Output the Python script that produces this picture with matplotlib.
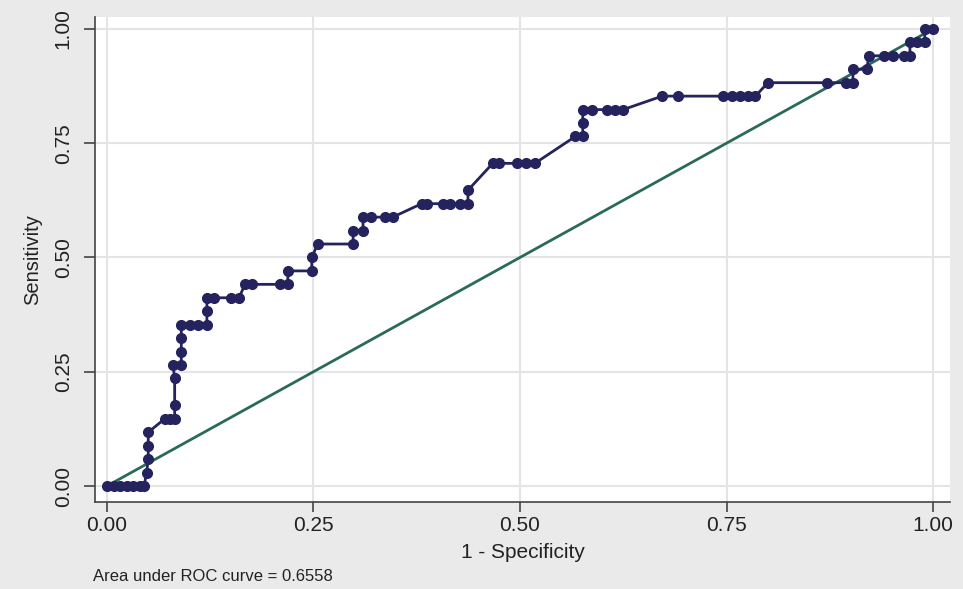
import numpy as np
import matplotlib.pyplot as plt

plt.rcParams['font.family'] = ['Liberation Sans', 'DejaVu Sans']

# ROC points (34 positives -> sensitivity in steps of 1/34)
fpr = [0.000, 0.008, 0.016, 0.024, 0.032, 0.040, 0.045,
       0.048, 0.050, 0.050, 0.050,
       0.070, 0.076, 0.082, 0.082, 0.082, 0.080, 0.090, 0.090, 0.090, 0.090,
       0.100, 0.110, 0.121, 0.121, 0.121, 0.130, 0.150, 0.160,
       0.167, 0.176, 0.210, 0.219, 0.219, 0.248, 0.248, 0.255, 0.298,
       0.298, 0.310, 0.310, 0.320, 0.337, 0.346,
       0.381, 0.388, 0.407, 0.415, 0.427, 0.437, 0.437,
       0.467, 0.475, 0.496, 0.507, 0.518,
       0.567, 0.576, 0.576, 0.576, 0.587, 0.605, 0.615, 0.625,
       0.672, 0.691, 0.746, 0.757, 0.766, 0.776, 0.785,
       0.800, 0.871, 0.895, 0.903, 0.903, 0.920, 0.922,
       0.940, 0.952, 0.965, 0.972, 0.972, 0.980, 0.990, 0.990, 1.000]
tp = [0, 0, 0, 0, 0, 0, 0,
      1, 2, 3, 4,
      5, 5, 5, 6, 8, 9, 9, 10, 11, 12,
      12, 12, 12, 13, 14, 14, 14, 14,
      15, 15, 15, 15, 16, 16, 17, 18, 18,
      19, 19, 20, 20, 20, 20,
      21, 21, 21, 21, 21, 21, 22,
      24, 24, 24, 24, 24,
      26, 26, 27, 28, 28, 28, 28, 28,
      29, 29, 29, 29, 29, 29, 29,
      30, 30, 30, 30, 31, 31, 32,
      32, 32, 32, 32, 33, 33, 33, 34, 34]
n_pos = 34
sens = np.array(tp) / n_pos

ticks = [0.00, 0.25, 0.50, 0.75, 1.00]
tick_labels = ['0.00', '0.25', '0.50', '0.75', '1.00']
auc_text = 'Area under ROC curve = 0.6558'

fig = plt.figure(figsize=(9.63, 5.89), dpi=100, facecolor='#eaeaea')
ax = fig.add_axes([0.0986, 0.1477, 0.888, 0.8234])
ax.set_facecolor('white')

ax.plot([0, 1], [0, 1], color='#2b6a58', lw=2, zorder=2)
ax.plot(fpr, sens, color='#24235e', lw=2, marker='o', ms=7,
        markerfacecolor='#24235e', markeredgecolor='#24235e', zorder=3)

ax.set_xlim(-0.0145, 1.0206)
ax.set_ylim(-0.035, 1.026)
ax.set_xticks(ticks)
ax.set_xticklabels(tick_labels, fontsize=15, color='#222222')
ax.set_yticks(ticks)
ax.set_yticklabels(tick_labels, fontsize=15, color='#222222', rotation=90, va='center')
ax.grid(True, color='#e4e4e4', lw=1.5)
ax.set_axisbelow(True)

for s in ['top', 'right']:
    ax.spines[s].set_visible(False)
for s in ['left', 'bottom']:
    ax.spines[s].set_color('#444444')
    ax.spines[s].set_linewidth(1.2)
ax.tick_params(axis='x', direction='out', length=7, width=1.2, color='#444444', pad=3)
ax.tick_params(axis='y', direction='out', length=8, width=1.2, color='#444444', pad=8)

ax.set_xlabel('1 - Specificity', fontsize=15, color='#222222', labelpad=6)
ax.set_ylabel('Sensitivity', fontsize=14.5, color='#222222', labelpad=8)

fig.text(0.097, 0.008, auc_text, fontsize=12, color='#222222', ha='left', va='bottom')

fig.savefig('out.png', dpi=100, facecolor=fig.get_facecolor())
